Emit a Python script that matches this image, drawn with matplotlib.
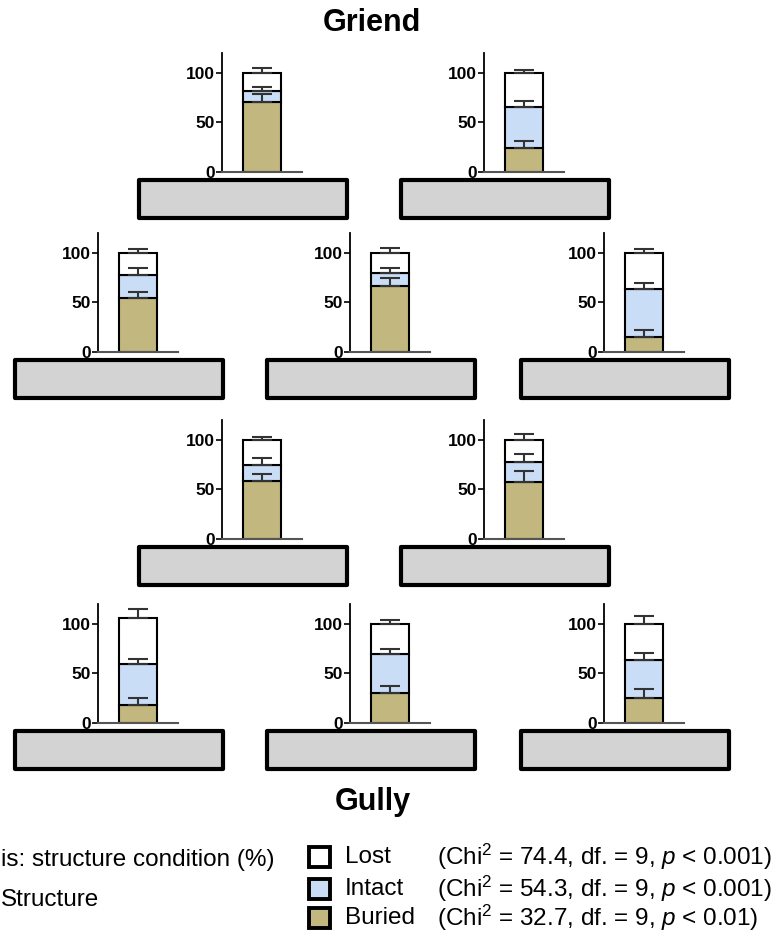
import matplotlib
matplotlib.use("Agg")
import matplotlib.pyplot as plt
from matplotlib.patches import Rectangle

plt.rcParams['font.family'] = ['Liberation Sans', 'DejaVu Sans']
plt.rcParams['mathtext.fontset'] = 'custom'
plt.rcParams['mathtext.rm'] = 'Liberation Sans'
plt.rcParams['mathtext.it'] = 'Liberation Sans:italic'

# mean % per structure (panels read left-right, top-bottom)
buried = [71, 24, 54, 67, 15, 58, 57, 18, 30, 25]
intact = [11, 42, 24, 13, 49, 17, 21, 41, 40, 38.5]
lost = [18, 34, 22, 20, 36, 25, 22, 47, 30, 36.5]
buried_err = [7.5, 7, 7, 8, 7.5, 8, 11.5, 7.5, 7, 9]
intact_err = [4, 6, 6.5, 5, 6, 6.5, 8, 5.5, 4.5, 7.5]
lost_err = [4.7, 2.7, 3.7, 4.4, 3.5, 2.7, 6, 8.8, 3.7, 8]

yticks = [0, 50, 100]
labels = ["Lost", "Intact", "Buried"]
stats = [r"(Chi$^2$ = 74.4, df. = 9, $p$ < 0.001)",
         r"(Chi$^2$ = 54.3, df. = 9, $p$ < 0.001)",
         r"(Chi$^2$ = 32.7, df. = 9, $p$ < 0.01)"]

C_BURIED = "#C2B77F"
C_INTACT = "#C9DDF6"
C_LOST = "white"
colors = [C_LOST, C_INTACT, C_BURIED]

W, H = 780, 933
fig = plt.figure(figsize=(W / 100, H / 100), dpi=100)

# panel layout in pixels: (spine x, zero-line y)
row_y = [172, 352, 539, 723]
cols_2 = [222, 484]
cols_3 = [98, 350, 604]
layout = []
for r, y0 in enumerate(row_y):
    for x in (cols_2 if r % 2 == 0 else cols_3):
        layout.append((x, y0))

ax_w, ax_h = 80, 119
for i, (x, y0) in enumerate(layout):
    ax = fig.add_axes([x / W, 1 - y0 / H, ax_w / W, ax_h / H])
    b, m, t = buried[i], intact[i], lost[i]
    ax.bar(0, b, width=0.97, color=C_BURIED, edgecolor='black', lw=1.5, zorder=2)
    ax.bar(0, m, bottom=b, width=0.97, color=C_INTACT, edgecolor='black', lw=1.5, zorder=2)
    ax.bar(0, t, bottom=b + m, width=0.97, color=C_LOST, edgecolor='black', lw=1.5, zorder=2)
    tops = [b, b + m, b + m + t]
    errs = [buried_err[i], intact_err[i], lost_err[i]]
    for top, e in zip(tops, errs):
        ax.errorbar(0, top, yerr=[[0], [e]], color='#333333', lw=1.5,
                    capsize=7, capthick=1.5, zorder=3)
    ax.set_xlim(-1, 1)
    ax.set_ylim(0, 120)
    ax.set_yticks(yticks)
    ax.set_xticks([])
    ax.spines['top'].set_visible(False)
    ax.spines['right'].set_visible(False)
    ax.spines['left'].set_linewidth(1.3)
    ax.spines['bottom'].set_color('#555555')
    ax.spines['bottom'].set_linewidth(1.5)
    ax.tick_params(axis='y', length=4, width=1.2, pad=1, labelsize=12.5)
    for lab in ax.get_yticklabels():
        lab.set_fontweight('bold')
    ax.patch.set_alpha(0)

    # grey structure block under each panel
    bx = x - 83
    fig.add_artist(Rectangle(((bx) / W, 1 - (y0 + 46) / H), 208 / W, 38 / H,
                             transform=fig.transFigure, facecolor='#D3D3D3',
                             edgecolor='black', lw=3, joinstyle='round'))

fig.text(372 / W, 1 - 23 / H, "Griend", ha='center', va='center',
         fontsize=22, fontweight='bold')
fig.text(373 / W, 1 - 802 / H, "Gully", ha='center', va='center',
         fontsize=22, fontweight='bold')

# legend
rows = [857, 889, 918]
for lab, st, c, y in zip(labels, stats, colors, rows):
    fig.add_artist(Rectangle((309 / W, 1 - (y + 10) / H), 21 / W, 20 / H,
                             transform=fig.transFigure, facecolor=c,
                             edgecolor='black', lw=2.8))
    fig.text(345 / W, 1 - y / H, lab, ha='left', va='center', fontsize=17.5)
    fig.text(437 / W, 1 - y / H, st, ha='left', va='center', fontsize=17.5)

fig.text(1 / W, 1 - 860 / H, "is: structure condition (%)", ha='left',
         va='center', fontsize=17.5)
fig.text(1 / W, 1 - 900 / H, "Structure", ha='left',
         va='center', fontsize=17.5)

fig.savefig("out.png", dpi=100)
